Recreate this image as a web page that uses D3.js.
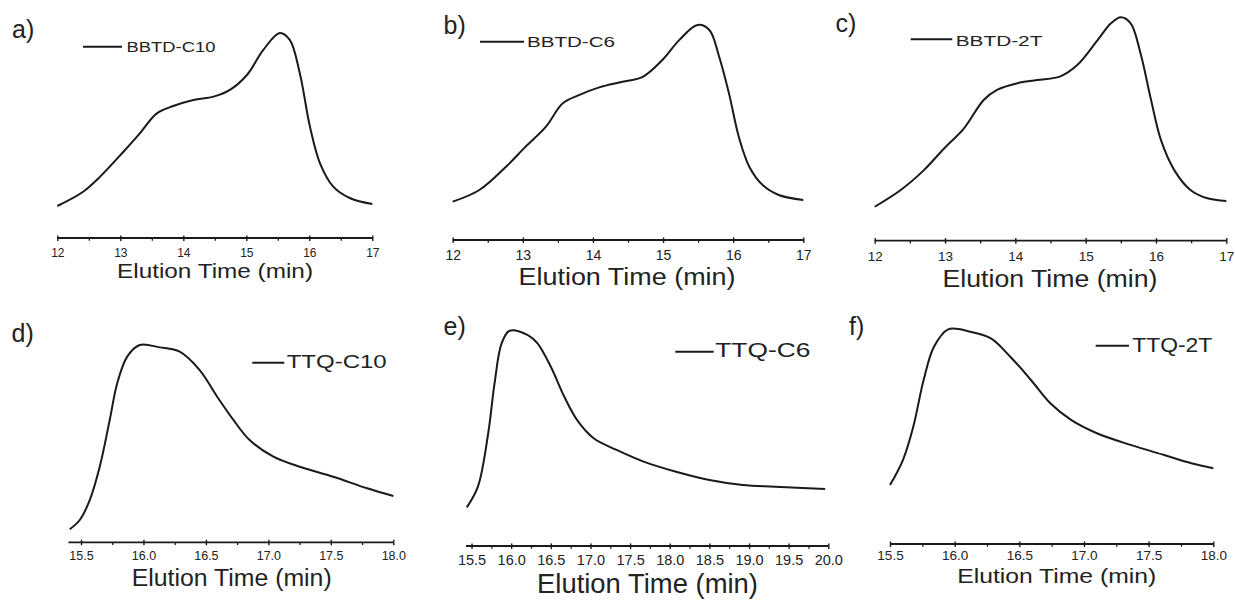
<!DOCTYPE html>
<html>
<head>
<meta charset="utf-8">
<script src="https://cdn.jsdelivr.net/npm/d3@7"></script>
<style>
  html, body { margin: 0; padding: 0; background: #fff; }
  svg { display: block; font-family: "Liberation Sans", Arial, sans-serif; }
</style>
</head>
<body>
<div id="chart"></div>
<script>
// GPC traces, elution time (min) vs normalised detector signal
const timeA = [12, 12.41, 12.68, 13.05, 13.31, 13.58, 13.84, 14.16, 14.48, 14.74, 15.01, 15.27, 15.53, 15.69, 15.85, 16.01, 16.17, 16.38, 16.65, 17];
const signalA = [0.152, 0.222, 0.296, 0.418, 0.508, 0.606, 0.642, 0.672, 0.688, 0.721, 0.794, 0.917, 1.0, 0.966, 0.802, 0.541, 0.361, 0.247, 0.19, 0.162];

const timeB = [12, 12.38, 12.76, 13.04, 13.33, 13.57, 13.80, 14.09, 14.42, 14.71, 14.99, 15.23, 15.49, 15.66, 15.80, 15.94, 16.08, 16.23, 16.42, 16.65, 17];
const signalB = [0.181, 0.235, 0.343, 0.436, 0.529, 0.637, 0.675, 0.711, 0.737, 0.760, 0.838, 0.930, 1.0, 0.977, 0.853, 0.683, 0.482, 0.343, 0.258, 0.212, 0.189];

const timeC = [12, 12.37, 12.70, 12.99, 13.27, 13.55, 13.74, 14.03, 14.31, 14.65, 14.88, 15.17, 15.36, 15.50, 15.64, 15.78, 15.93, 16.07, 16.26, 16.49, 16.73, 17];
const signalC = [0.152, 0.227, 0.316, 0.414, 0.503, 0.630, 0.675, 0.705, 0.719, 0.737, 0.786, 0.898, 0.973, 1.0, 0.973, 0.839, 0.630, 0.451, 0.316, 0.227, 0.190, 0.178];

const timeD = [15.41, 15.49, 15.57, 15.65, 15.73, 15.79, 15.87, 15.97, 16.13, 16.29, 16.45, 16.59, 16.72, 16.85, 17.04, 17.25, 17.52, 17.79, 18.0];
const signalD = [0.066, 0.113, 0.214, 0.383, 0.620, 0.806, 0.941, 1.0, 0.988, 0.966, 0.873, 0.738, 0.620, 0.518, 0.434, 0.383, 0.332, 0.274, 0.235];

const timeE = [15.44, 15.58, 15.71, 15.79, 15.88, 15.98, 16.21, 16.33, 16.50, 16.67, 16.83, 17.04, 17.33, 17.67, 18.08, 18.5, 18.92, 19.33, 19.96];
const signalE = [0.182, 0.278, 0.525, 0.756, 0.942, 1.0, 0.980, 0.942, 0.833, 0.694, 0.587, 0.502, 0.448, 0.394, 0.347, 0.309, 0.286, 0.278, 0.267];

const timeF = [15.5, 15.60, 15.68, 15.76, 15.84, 15.95, 16.12, 16.28, 16.43, 16.59, 16.74, 16.90, 17.10, 17.36, 17.62, 17.83, 18.0];
const signalF = [0.278, 0.394, 0.548, 0.765, 0.919, 1.0, 0.989, 0.958, 0.873, 0.765, 0.657, 0.580, 0.518, 0.464, 0.417, 0.379, 0.356];

const sampleNames = ["BBTD-C10", "BBTD-C6", "BBTD-2T", "TTQ-C10", "TTQ-C6", "TTQ-2T"];
const panelLetters = ["a)", "b)", "c)", "d)", "e)", "f)"];

const ticksTop = [12, 13, 14, 15, 16, 17];
const minorTop = [12.5, 13.5, 14.5, 15.5, 16.5];
const ticksDF = [15.5, 16.0, 16.5, 17.0, 17.5, 18.0];
const minorDF = [15.75, 16.25, 16.75, 17.25, 17.75];
const ticksE = [15.5, 16.0, 16.5, 17.0, 17.5, 18.0, 18.5, 19.0, 19.5, 20.0];
const minorE = [15.75, 16.25, 16.75, 17.25, 17.75, 18.25, 18.75, 19.25, 19.75];

const xTitle = "Elution Time (min)";

// placement of each panel on the page (pixels)
const layout = [
  { domain: [12, 17], xr: [57.3, 372.3], v0: 237, v1: 33, axisY: 238, tickFont: 12, tickBase: 257, fmt: "d",
    title: { cx: 215, w: 196, y: 278, size: 20 }, label: { x: 12, y: 38 },
    legend: { x1: 83, x2: 122, y: 46.7, tx: 126.5, ty: 51.7, size: 14, w: 89 } },
  { domain: [12, 17], xr: [452.7, 803.3], v0: 240.7, v1: 25, axisY: 240, tickFont: 14, tickBase: 260, fmt: "d",
    title: { cx: 627, w: 217, y: 285, size: 23 }, label: { x: 443.5, y: 33.5 },
    legend: { x1: 480, x2: 524, y: 41.7, tx: 527, ty: 46.7, size: 15, w: 88 } },
  { domain: [12, 17], xr: [874.7, 1226.3], v0: 240.7, v1: 17.3, axisY: 240.7, tickFont: 13.5, tickBase: 261, fmt: "d",
    title: { cx: 1050, w: 215, y: 286.7, size: 23 }, label: { x: 835.5, y: 32 },
    legend: { x1: 910.7, x2: 952.3, y: 39.3, tx: 955.7, ty: 46, size: 15.5, w: 86.7 } },
  { domain: [15.4, 18], xr: [68.5, 393.3], v0: 542.3, v1: 345, axisY: 542.3, tickFont: 12.5, tickBase: 560, fmt: ".1f",
    title: { cx: 231.7, w: 200, y: 586, size: 23 }, label: { x: 11.5, y: 342 },
    legend: { x1: 252.3, x2: 284.3, y: 362.7, tx: 286.7, ty: 368.3, size: 18.5, w: 100 } },
  { domain: [15.43, 20], xr: [466, 828.3], v0: 546.7, v1: 330.7, axisY: 546, tickFont: 14.5, tickBase: 565, fmt: ".1f",
    title: { cx: 647.5, w: 221, y: 593.3, size: 27 }, label: { x: 443.5, y: 335 },
    legend: { x1: 675.3, x2: 713.7, y: 351.7, tx: 715.3, ty: 356.7, size: 21, w: 95 } },
  { domain: [15.5, 18], xr: [890, 1213.3], v0: 545, v1: 329.3, axisY: 544, tickFont: 13.5, tickBase: 560, fmt: ".1f",
    title: { cx: 1056.7, w: 199, y: 583, size: 21 }, label: { x: 849, y: 335 },
    legend: { x1: 1095.7, x2: 1129, y: 345.7, tx: 1132.3, ty: 352.3, size: 21, w: 80 } }
];

const series = [
  { t: timeA, s: signalA, major: ticksTop, minor: minorTop },
  { t: timeB, s: signalB, major: ticksTop, minor: minorTop },
  { t: timeC, s: signalC, major: ticksTop, minor: minorTop },
  { t: timeD, s: signalD, major: ticksDF, minor: minorDF },
  { t: timeE, s: signalE, major: ticksE, minor: minorE },
  { t: timeF, s: signalF, major: ticksDF, minor: minorDF }
];

const width = 1235, height = 600;
const ink = "#1a1a1a";

const svg = d3.select("#chart").append("svg")
  .attr("width", width)
  .attr("height", height);

series.forEach((d, i) => {
  const L = layout[i];
  const g = svg.append("g");

  const x = d3.scaleLinear().domain(L.domain).range(L.xr);
  const y = d3.scaleLinear().domain([0, 1]).range([L.v0, L.v1]);

  // minor ticks (down only)
  g.append("g")
    .attr("transform", `translate(0,${L.axisY})`)
    .call(d3.axisBottom(x).tickValues(d.minor).tickSize(2.7).tickSizeOuter(0).tickFormat(""))
    .call(a => a.select(".domain").remove())
    .call(a => a.selectAll(".tick line").attr("stroke", ink).attr("stroke-width", 1.3));

  // major ticks + labels
  const ax = g.append("g")
    .attr("transform", `translate(0,${L.axisY})`)
    .call(d3.axisBottom(x).tickValues(d.major).tickSizeOuter(0).tickFormat(d3.format(L.fmt)));
  ax.select(".domain")
    .attr("stroke", ink).attr("stroke-width", 1.8)
    .attr("d", `M${L.xr[0]},0H${L.xr[1]}`);
  ax.selectAll(".tick line")
    .attr("stroke", ink).attr("stroke-width", 1.4)
    .attr("y1", -2.6).attr("y2", 3);
  ax.selectAll(".tick text")
    .attr("y", L.tickBase - L.axisY).attr("dy", 0)
    .attr("fill", "#222")
    .style("font-size", L.tickFont + "px")
    .style("font-family", "'Liberation Sans', Arial, sans-serif");

  // axis title
  g.append("text")
    .attr("x", L.title.cx).attr("y", L.title.y)
    .attr("text-anchor", "middle")
    .attr("textLength", L.title.w)
    .attr("lengthAdjust", "spacingAndGlyphs")
    .style("font-size", L.title.size + "px")
    .attr("fill", "#222")
    .text(xTitle);

  // trace
  const pts = d.t.map((t, k) => [t, d.s[k]]);
  g.append("path")
    .datum(pts)
    .attr("fill", "none")
    .attr("stroke", ink)
    .attr("stroke-width", 2)
    .attr("stroke-linejoin", "round")
    .attr("d", d3.line().x(p => x(p[0])).y(p => y(p[1])).curve(d3.curveCatmullRom.alpha(0.5)));

  // legend
  g.append("line")
    .attr("x1", L.legend.x1).attr("x2", L.legend.x2)
    .attr("y1", L.legend.y).attr("y2", L.legend.y)
    .attr("stroke", ink).attr("stroke-width", 2);
  g.append("text")
    .attr("x", L.legend.tx).attr("y", L.legend.ty)
    .attr("textLength", L.legend.w)
    .attr("lengthAdjust", "spacingAndGlyphs")
    .style("font-size", L.legend.size + "px")
    .attr("fill", "#222")
    .text(sampleNames[i]);

  // panel letter
  g.append("text")
    .attr("x", L.label.x).attr("y", L.label.y)
    .style("font-size", "25px")
    .attr("fill", "#222")
    .text(panelLetters[i]);
});
</script>
</body>
</html>
